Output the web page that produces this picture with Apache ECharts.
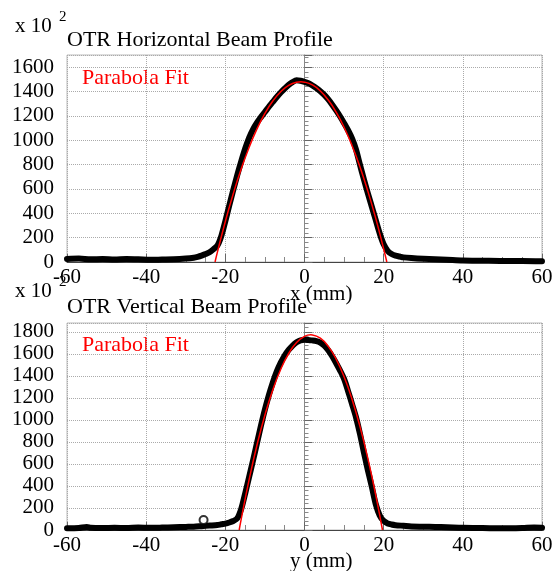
<!DOCTYPE html>
<html>
<head>
<meta charset="utf-8" />
<title>OTR Beam Profile</title>
<script src="https://cdn.jsdelivr.net/npm/echarts@6/dist/echarts.min.js"></script>
<style>
  html, body { margin: 0; padding: 0; background: #fff; }
  #chart { width: 559px; height: 571px; }
</style>
</head>
<body>
<div id="chart"></div>
<script>
// tick labels
var xTicks = [-60, -40, -20, 0, 20, 40, 60];
var hTicks = [0, 200, 400, 600, 800, 1000, 1200, 1400, 1600];
var vTicks = [0, 200, 400, 600, 800, 1000, 1200, 1400, 1600, 1800];

// horizontal profile (x mm, counts / 100)
var hX = [-60, -57, -54, -51, -48, -45, -42, -39, -36, -33, -30, -28, -27, -26, -25, -24, -23,
  -22, -21, -20, -19, -18, -17, -16, -15, -14, -13, -12, -11, -10, -9, -8, -7, -6, -5, -4, -3, -2, -1,
  0, 1, 2, 3, 4, 5, 6, 7, 8, 9, 10, 11, 12, 13, 14, 15, 16, 17, 18, 19, 20, 21, 22, 23, 24, 25,
  27, 30, 33, 36, 40, 45, 50, 55, 60];
var hY = [25, 28, 22, 25, 20, 24, 22, 18, 20, 22, 28, 35, 42, 52, 65, 80, 105,
  135, 215, 335, 465, 591, 712, 825, 930, 1020, 1090, 1145, 1190, 1232, 1275, 1315, 1355, 1392, 1425, 1455, 1478, 1492, 1488,
  1480, 1468, 1450, 1428, 1402, 1372, 1335, 1292, 1245, 1195, 1140, 1082, 1015, 925, 800, 680, 565, 455, 345, 235, 145, 92, 66, 52, 45, 38,
  32, 26, 22, 18, 12, 10, 8, 8, 6];
// parabola fit, horizontal
var hFitX = [-22.6, -22, -20, -18, -16, -14, -12, -10, -8, -6, -4, -2, -0.9, 0, 2, 4, 6, 8, 10, 12, 14, 16, 18, 20, 20.8];
var hFitY = [0, 81, 333, 561, 763, 941, 1093, 1220, 1322, 1398, 1450, 1476, 1480, 1477, 1454, 1404, 1330, 1231, 1107, 957, 782, 582, 358, 107, 0];

// vertical profile (y mm, counts / 100)
var vX = [-60, -57, -55, -54, -51, -48, -45, -42, -39, -36, -33, -30, -28, -26, -24, -22, -21, -20, -19, -18,
  -17, -16, -15, -14, -13, -12, -11, -10, -9, -8, -7, -6, -5, -4, -3, -2, -1,
  0, 1, 2, 3, 4, 5, 6, 7, 8, 9, 10, 11, 12, 13, 14, 15, 16, 17, 18, 19, 20, 21, 22, 23, 25,
  27, 30, 33, 36, 40, 45, 50, 55, 58, 60];
var vY = [15, 18, 28, 20, 18, 20, 18, 22, 20, 22, 25, 28, 30, 35, 40, 45, 52, 58, 68, 82,
  105, 190, 330, 480, 632, 790, 948, 1095, 1225, 1340, 1440, 1520, 1585, 1635, 1675, 1705, 1722,
  1728, 1725, 1722, 1716, 1702, 1675, 1632, 1578, 1515, 1448, 1372, 1262, 1145, 1025, 875, 705, 545, 394, 235, 132, 82, 60, 50, 44, 38,
  32, 30, 28, 25, 20, 18, 15, 18, 22, 20];
var vOutX = [-25.5];
var vOutY = [91];
// parabola fit, vertical
var vFitX = [-16.5, -16, -14, -12, -10, -8, -6, -4, -2, 0, 1.6, 2, 4, 6, 8, 10, 12, 14, 16, 18, 19.7];
var vFitY = [0, 97, 456, 772, 1045, 1274, 1460, 1603, 1703, 1759, 1773, 1772, 1742, 1668, 1551, 1391, 1188, 941, 651, 317, 0];

var _font = 'Liberation Serif';

function pairs(xs, ys) {
  var out = [];
  for (var i = 0; i < xs.length; i++) out.push([xs[i], ys[i]]);
  return out;
}

function xAxisOpt(idx) {
  return {
    type: 'value', gridIndex: idx,
    min: xTicks[0], max: xTicks[xTicks.length - 1], interval: 20,
    axisLine: { show: true, onZero: false, lineStyle: { color: '#444', width: 1 } },
    axisTick: { show: true, inside: true, length: 8, lineStyle: { color: '#666' } },
    minorTick: { show: true, splitNumber: 4, length: 5, lineStyle: { color: '#888' } },
    splitLine: { show: true, lineStyle: { color: '#aaa', type: 'dotted', width: 1 } },
    axisLabel: { color: '#000', fontFamily: _font, fontSize: 21, margin: 5 }
  };
}

function yAxisOpt(idx, ticks, max) {
  return {
    type: 'value', gridIndex: idx,
    min: ticks[0], max: max, interval: 200,
    axisLine: { show: true, lineStyle: { color: '#888', width: 1 } },
    axisTick: { show: true, inside: true, length: 8, lineStyle: { color: '#666' } },
    minorTick: { show: true, splitNumber: 5, length: 4, lineStyle: { color: '#888' } },
    splitLine: { show: true, lineStyle: { color: '#aaa', type: 'dotted', width: 1 } },
    axisLabel: {
      color: '#000', fontFamily: _font, fontSize: 21, margin: 13, showMaxLabel: false,
      formatter: function (v) { return String(v); }
    }
  };
}

function dataSeries(idx, xs, ys) {
  return {
    type: 'line', xAxisIndex: idx, yAxisIndex: idx,
    data: pairs(xs, ys),
    showSymbol: false, smooth: 0.3,
    lineStyle: { color: '#000', width: 6, join: 'round', cap: 'round' },
    silent: true, animation: false, z: 2
  };
}

function fitSeries(idx, xs, ys) {
  return {
    type: 'line', xAxisIndex: idx, yAxisIndex: idx,
    data: pairs(xs, ys),
    smooth: true, showSymbol: false,
    lineStyle: { color: '#ff0000', width: 1.5 },
    silent: true, animation: false, z: 3
  };
}

function txt(x, y, s, size, color) {
  return {
    type: 'text', x: x, y: y,
    style: {
      text: s, fontFamily: _font, fontSize: size, fill: color || '#000',
      verticalAlign: 'middle', textVerticalAlign: 'middle'
    }
  };
}

var myChart = echarts.init(document.getElementById('chart'));
var option = {
  backgroundColor: '#fff',
  grid: [
    { left: 67, right: 17, top: 55, height: 207, show: true, borderColor: '#bbb', borderWidth: 1, backgroundColor: '#fff' },
    { left: 67, right: 17, top: 323, height: 207, show: true, borderColor: '#bbb', borderWidth: 1, backgroundColor: '#fff' }
  ],
  xAxis: [xAxisOpt(0), xAxisOpt(1)],
  yAxis: [yAxisOpt(0, hTicks, 1700), yAxisOpt(1, vTicks, 1880)],
  series: [
    dataSeries(0, hX, hY),
    fitSeries(0, hFitX, hFitY),
    dataSeries(1, vX, vY),
    {
      type: 'scatter', xAxisIndex: 1, yAxisIndex: 1,
      data: pairs(vOutX, vOutY),
      symbol: 'emptyCircle', symbolSize: 8,
      itemStyle: { color: '#000', borderColor: '#000', borderWidth: 2 },
      silent: true, animation: false, z: 2
    },
    fitSeries(1, vFitX, vFitY)
  ],
  graphic: [
    txt(15, 26, 'x 10', 21),
    txt(59, 17, '2', 15),
    txt(67, 40, 'OTR Horizontal Beam Profile', 22),
    txt(82, 78, 'Parabola Fit', 22, '#ff0000'),
    txt(290, 294, 'x (mm)', 21),
    txt(15, 291, 'x 10', 21),
    txt(59, 282, '2', 15),
    txt(67, 307, 'OTR Vertical Beam Profile', 22),
    txt(82, 345, 'Parabola Fit', 22, '#ff0000'),
    txt(290, 561, 'y (mm)', 21)
  ]
};
myChart.setOption(option);
</script>
</body>
</html>
